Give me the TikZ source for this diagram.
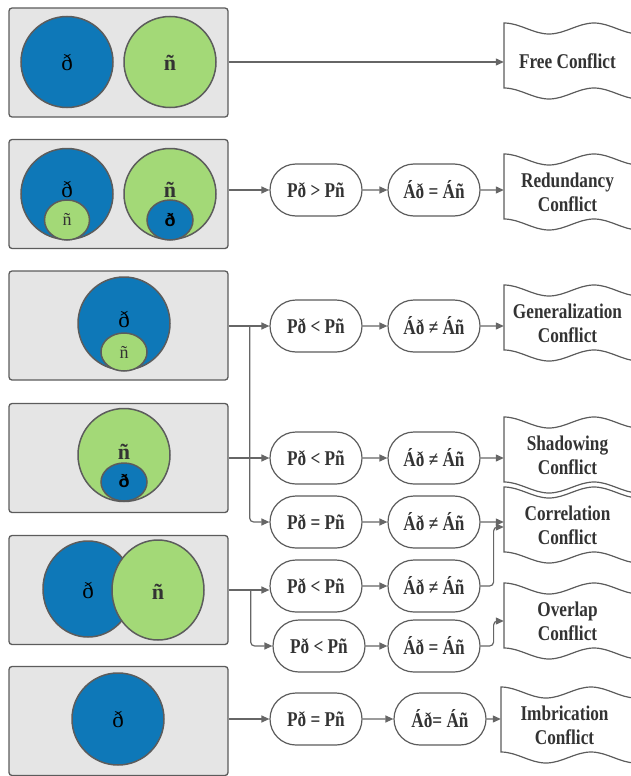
\documentclass[tikz,border=0pt]{standalone}
\usepackage{fontspec}
\setmainfont{Liberation Serif}
\newfontfamily\labfont{Liberation Serif}[FakeStretch=0.82]
\newfontfamily\setsans{Liberation Sans}
\usetikzlibrary{shapes.geometric,shapes.misc,arrows.meta,calc}

\definecolor{setblue}{RGB}{14,120,184}
\definecolor{setgreen}{RGB}{163,217,119}
\definecolor{panelgray}{RGB}{229,229,229}
\definecolor{edgegray}{RGB}{92,92,92}
\definecolor{linkgray}{RGB}{102,102,102}
\definecolor{inkgray}{RGB}{51,51,51}

\tikzset{
  panel/.style={draw=edgegray, fill=panelgray, line width=1.3pt, rounded corners=3pt,
    minimum width=219, minimum height=109, inner sep=0},
  setA/.style={ellipse, draw=edgegray, fill=setblue, line width=1.5pt, inner sep=0},
  setB/.style={ellipse, draw=edgegray, fill=setgreen, line width=1.5pt, inner sep=0},
  biglab/.style={font=\fontsize{23}{23}\selectfont, text=black},
  bigbold/.style={font=\bfseries\fontsize{22}{22}\selectfont, text=inkgray},
  smalllab/.style={font=\fontsize{18}{18}\selectfont, text=inkgray},
  smallsans/.style={font=\setsans\bfseries\fontsize{18}{18}\selectfont, text=black},
  cond/.style={rounded rectangle, draw=edgegray, line width=1.2pt, fill=white,
    minimum width=92, minimum height=52, inner sep=0, text=inkgray,
    font=\labfont\bfseries\fontsize{21}{24}\selectfont},
  doc/.style={minimum width=127, minimum height=65, inner sep=0, align=center, text=inkgray,
    font=\labfont\bfseries\fontsize{21}{24}\selectfont},
  tapeline/.style={draw=edgegray, line width=1.2pt, fill=white},
  link/.style={draw=linkgray, line width=1.2pt, -{Triangle[length=8pt,width=7pt]}},
}

% wavy "tape" outline, top-left corner at (#1,#2)
\newcommand\tapeat[2]{%
  \begin{scope}[shift={(#1,#2)}]
    \draw[tapeline] (0,0) .. controls (16,0) and (29,11) .. (45,11)
      .. controls (61,11) and (74,0) .. (90,0)
      .. controls (106,0) and (119,11) .. (135,11)
      -- (135,76) .. controls (119,76) and (106,65) .. (90,65)
      .. controls (74,65) and (61,76) .. (45,76)
      .. controls (29,76) and (16,65) .. (0,65) -- cycle;
  \end{scope}}

\begin{document}
\begin{tikzpicture}[x=1pt,y=-1pt]
\useasboundingbox (0,0) rectangle (631,776);

% ---------- left panels with set diagrams ----------
\node[panel] (p1) at (118.5,62.5) {};
\node[setA, minimum width=92, minimum height=91] (a1) at (67,62) {};
\node[setB, minimum width=92, minimum height=91] (b1) at (170,62) {};
\node[biglab] (la1) at (67,63) {ð};
\node[bigbold] (lb1) at (170,63) {ñ};

\node[panel] (p2) at (118.5,194) {};
\node[setA, minimum width=92, minimum height=91] (a2) at (67,194) {};
\node[setB, minimum width=45, minimum height=40] (b2s) at (67,220) {};
\node[setB, minimum width=92, minimum height=91] (b2) at (170,194) {};
\node[setA, minimum width=46, minimum height=40] (a2s) at (170,220) {};
\node[biglab] (la2) at (67,190) {ð};
\node[smalllab] (lb2s) at (67,219) {ñ};
\node[bigbold] (lb2) at (170,190) {ñ};
\node[smallsans] (la2s) at (170,220) {ð};

\node[panel] (p3) at (118.5,325.5) {};
\node[setA, minimum width=92, minimum height=93] (a3) at (124,323.5) {};
\node[setB, minimum width=46, minimum height=38] (b3s) at (124,352) {};
\node[biglab] (la3) at (124,320) {ð};
\node[smalllab] (lb3s) at (124,352) {ñ};

\node[panel] (p4) at (118.5,458) {};
\node[setB, minimum width=92, minimum height=93] (b4) at (124,455) {};
\node[setA, minimum width=46, minimum height=38] (a4s) at (124,482) {};
\node[bigbold] (lb4) at (124,452) {ñ};
\node[smallsans] (la4s) at (124,481) {ð};

\node[panel] (p5) at (118.5,590) {};
\node[setA, minimum width=90, minimum height=96] (a5) at (88,589) {};
\node[setB, minimum width=92, minimum height=100] (b5) at (158,590) {};
\node[biglab] (la5) at (88,590) {ð};
\node[bigbold] (lb5) at (158,592) {ñ};

\node[panel] (p6) at (118.5,721) {};
\node[setA, minimum width=92, minimum height=92] (a6) at (118,719) {};
\node[biglab] (la6) at (118,719) {ð};

% ---------- conflict labels (wavy tapes) ----------
\tapeat{504}{23}
\node[doc] (d1) at (567.5,61) {Free Conflict};
\tapeat{504}{154}
\node[doc] (d2) at (567.5,192) {Redundancy\\Conflict};
\tapeat{504}{285}
\node[doc] (d3) at (567.5,323) {Generalization\\Conflict};
\tapeat{504}{417}
\node[doc] (d4) at (567.5,455) {Shadowing\\Conflict};
\tapeat{504}{487}
\node[doc] (d5) at (567.5,525) {Correlation\\Conflict};
\tapeat{504}{583}
\node[doc] (d6) at (567.5,621) {Overlap\\Conflict};
\tapeat{501}{687}
\node[doc] (d7) at (564.5,725) {Imbrication\\Conflict};

% ---------- conditions ----------
\node[cond] (c2a) at (316,190) {Pð > Pñ};
\node[cond] (c2b) at (434,190) {Áð = Áñ};
\node[cond] (c3a) at (316,326) {Pð < Pñ};
\node[cond] (c3b) at (434,326) {Áð ≠ Áñ};
\node[cond] (c4a) at (316,458) {Pð < Pñ};
\node[cond] (c4b) at (434,458) {Áð ≠ Áñ};
\node[cond] (c5a) at (316,522) {Pð = Pñ};
\node[cond] (c5b) at (434,522) {Áð ≠ Áñ};
\node[cond] (c6a) at (316,586) {Pð < Pñ};
\node[cond] (c6b) at (434,586) {Áð ≠ Áñ};
\node[cond] (c7a) at (319,646) {Pð < Pñ};
\node[cond] (c7b) at (434,646) {Áð = Áñ};
\node[cond] (c8a) at (316,719) {Pð = Pñ};
\node[cond] (c8b) at (440,719) {Áð= Áñ};

% ---------- connectors ----------
\draw[link] (p1.east |- a1) -- (a1 -| d1.west);

\draw[link] (p2.east |- c2a) -- (c2a);
\draw[link] (c2a) -- (c2b);
\draw[link] (c2b) -- (c2b -| d2.west);

\coordinate (j3) at ($(p3.east |- c3a)+(21,0)$);
\draw[link] (p3.east |- c3a) -- (c3a);
\draw[link, rounded corners=4pt] (j3) |- (c5a.west);
\draw[link] (c3a) -- (c3b);
\draw[link] (c3b) -- (c3b -| d3.west);

\draw[link] (p4.east |- c4a) -- (c4a);
\draw[link] (c4a) -- (c4b);
\draw[link] (c4b) -- (c4b -| d4.west);

\draw[link] (c5a) -- (c5b);
\draw[link] (c5b) -- (c5b -| d5.west);

\coordinate (j5) at ($(p5.east)+(22,0)$);
\draw[link] (p5.east) -- (p5.east -| c6a.west);
\draw[link, rounded corners=4pt] (j5) |- (c7a.west);
\draw[link] (c6a) -- (c6b);
\draw[link, rounded corners=4pt] (c6b.east) -- ++(13,0) |- ($(d5.west)+(0,2)$);

\draw[link] (c7a) -- (c7b);
\draw[link, rounded corners=4pt] (c7b.east) -- ++(13,0) |- (d6.west);

\draw[link] (p6.east |- c8a) -- (c8a);
\draw[link] (c8a) -- (c8b);
\draw[link] (c8b) -- (c8b -| d7.west);
\end{tikzpicture}
\end{document}
